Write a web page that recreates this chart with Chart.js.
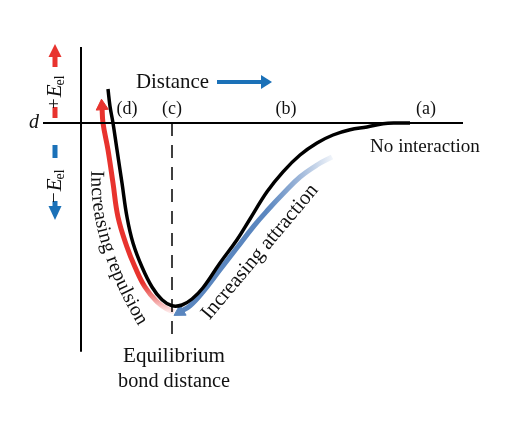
<!DOCTYPE html>
<html>
<head>
<meta charset="utf-8">
<script src="https://cdn.jsdelivr.net/npm/chart.js@4.4.0/dist/chart.umd.min.js"></script>
<style>
  body { margin: 0; background: #fff; }
  canvas { display: block; }
</style>
</head>
<body>
<canvas id="myChart" width="512" height="422"></canvas>
<script>
// potential energy curve, distance in pm, energy in kJ/mol
const curveDist   = [27, 29, 32, 36, 41, 46, 52, 61, 71, 81, 91, 101, 111, 122, 139, 156, 169, 186, 202, 219, 236, 252, 269, 286, 302, 316, 329];
const curveEnergy = [85, 42, 0, -67, -150, -235, -300, -360, -410, -442, -457, -455, -440, -412, -350, -292, -240, -172, -122, -80, -50, -30, -17, -10, -2, 0, 0];

// red "increasing repulsion" arrow (arrow head at first point)
const repulsionDist   = [21, 22, 27, 32, 37, 46, 54, 64, 76, 86, 93];
const repulsionEnergy = [42, 0, -67, -150, -235, -310, -360, -410, -447, -465, -472];

// blue "increasing attraction" arrow (arrow head at first point)
const attractionDist   = [99, 109, 122, 139, 156, 173, 187, 202, 219, 236, 251];
const attractionEnergy = [-472, -457, -422, -367, -312, -257, -217, -177, -135, -105, -85];

const eqDistance = 91;
const eqLineBottom = -542;
const distAxis = [-38, 382];
const energyAxis = [-572, 190];

const regionLabels = ['(d)', '(c)', '(b)', '(a)'];
const regionDist = [46, 91, 205, 345];

const RED = '#e8332e';
const BLUE = '#1b71b8';
const STEEL = '#5a86bf';

const pts = (xs, ys) => xs.map((x, i) => ({ x: x, y: ys[i] }));

// text sized so that it spans a given width
function fitFont(c, txt, w, style) {
    c.font = (style || '') + ' 20px "Liberation Serif"';
    const s = 20 * w / c.measureText(txt).width;
    c.font = (style || '') + ' ' + s.toFixed(2) + 'px "Liberation Serif"';
    return s;
}

function rotText(c, txt, x, y, deg, w) {
    c.save();
    c.translate(x, y);
    c.rotate(deg * Math.PI / 180);
    fitFont(c, txt, w);
    c.textAlign = 'center';
    c.textBaseline = 'middle';
    c.fillText(txt, 0, 0);
    c.restore();
}

// text following a quadratic curve p0 -> p2 (control q)
function curvedText(c, txt, p0, q, p2, w) {
    const path = [];
    for (let i = 0; i <= 200; i++) {
        const t = i / 200, u = 1 - t;
        path.push([u * u * p0[0] + 2 * t * u * q[0] + t * t * p2[0],
                   u * u * p0[1] + 2 * t * u * q[1] + t * t * p2[1]]);
    }
    const len = [0];
    for (let i = 1; i < path.length; i++) {
        len.push(len[i - 1] + Math.hypot(path[i][0] - path[i - 1][0], path[i][1] - path[i - 1][1]));
    }
    const total = len[len.length - 1];
    const at = s => {
        let i = 1;
        while (i < len.length - 1 && len[i] < s) i++;
        const f = (s - len[i - 1]) / (len[i] - len[i - 1]);
        const a = path[i - 1], b = path[i];
        return [a[0] + (b[0] - a[0]) * f, a[1] + (b[1] - a[1]) * f, Math.atan2(b[1] - a[1], b[0] - a[0])];
    };
    fitFont(c, txt, w);
    c.textAlign = 'left';
    c.textBaseline = 'middle';
    let s = (total - w) / 2;
    for (const ch of txt) {
        const cw = c.measureText(ch).width;
        const p = at(s + cw / 2);
        c.save();
        c.translate(p[0], p[1]);
        c.rotate(p[2]);
        c.fillText(ch, -cw / 2, 0);
        c.restore();
        s += cw;
    }
}

function tri(c, x1, y1, x2, y2, x3, y3, col) {
    c.fillStyle = col;
    c.beginPath();
    c.moveTo(x1, y1); c.lineTo(x2, y2); c.lineTo(x3, y3);
    c.closePath();
    c.fill();
}

// E_el label rotated, reading upward, starting at (x, y) = baseline start
function energyLabel(c, sign, x, y) {
    c.save();
    c.translate(x, y);
    c.rotate(-Math.PI / 2);
    c.fillStyle = '#111';
    c.textAlign = 'left';
    c.textBaseline = 'alphabetic';
    c.font = '19px "Liberation Serif"';
    c.fillText(sign, 0, -1);
    let w = c.measureText(sign).width + 1;
    c.font = 'italic 21px "Liberation Serif"';
    c.fillText('E', w, 0);
    w += c.measureText('E').width - 1;
    c.font = '14px "Liberation Serif"';
    c.fillText('el', w, 3);
    c.restore();
}

const labelPlugin = {
    id: 'labels',
    afterDatasetsDraw(chart) {
        const c = chart.ctx;
        const X = v => chart.scales.x.getPixelForValue(v);
        const Y = v => chart.scales.y.getPixelForValue(v);
        c.save();
        c.fillStyle = '#111';
        c.textBaseline = 'alphabetic';

        // Distance ->
        c.textAlign = 'left';
        fitFont(c, 'Distance', 73);
        c.fillText('Distance', 136, 88);
        c.fillStyle = BLUE;
        c.fillRect(217, 80, 46, 4);
        tri(c, 261, 75, 272, 82, 261, 89, BLUE);

        // region letters
        c.fillStyle = '#111';
        c.textAlign = 'center';
        c.font = '18px "Liberation Serif"';
        regionLabels.forEach((t, i) => c.fillText(t, X(regionDist[i]), 114));

        c.textAlign = 'left';
        fitFont(c, 'No interaction', 110);
        c.fillText('No interaction', 370, 152);

        c.textAlign = 'center';
        fitFont(c, 'Equilibrium', 102);
        c.fillText('Equilibrium', X(eqDistance) + 2, 362);
        fitFont(c, 'bond distance', 112);
        c.fillText('bond distance', X(eqDistance) + 2, 387);

        curvedText(c, 'Increasing repulsion', [97, 163], [91, 239], [147, 330], 162);
        rotText(c, 'Increasing attraction', 260, 252, -50, 170);

        // d on the energy axis
        c.fillStyle = '#111';
        c.textAlign = 'center';
        c.textBaseline = 'alphabetic';
        c.font = 'italic 20px "Liberation Serif"';
        c.fillText('d', 34, Y(0) + 5);

        // +E_el / -E_el indicators
        c.fillStyle = RED;
        c.fillRect(52.5, 107, 5, 11);
        c.fillRect(52.5, 55, 5, 12);
        tri(c, 48.5, 57, 55, 44, 61.5, 57, RED);
        energyLabel(c, '+', 61, 109);

        c.fillStyle = BLUE;
        c.fillRect(52.5, 145, 5, 13);
        c.fillRect(52.5, 201, 5, 6);
        tri(c, 48.5, 206, 55, 220, 61.5, 206, BLUE);
        energyLabel(c, '\u2212', 61, 203);

        c.restore();
    }
};

window.onload = () => {
    const ctx = document.getElementById('myChart').getContext('2d');

    const redFade = (context) => {
        const chart = context.chart;
        if (!chart.chartArea) return RED;
        const y = chart.scales.y;
        const g = chart.ctx.createLinearGradient(0, y.getPixelForValue(-400), 0, y.getPixelForValue(-472));
        g.addColorStop(0, RED);
        g.addColorStop(0.5, '#f08a88');
        g.addColorStop(1, '#fde6e6');
        return g;
    };
    const blueFade = (context) => {
        const chart = context.chart;
        if (!chart.chartArea) return STEEL;
        const x = chart.scales.x;
        const g = chart.ctx.createLinearGradient(x.getPixelForValue(185), 0, x.getPixelForValue(251), 0);
        g.addColorStop(0, STEEL);
        g.addColorStop(0.5, '#9db6d9');
        g.addColorStop(1, '#f0f4fa');
        return g;
    };

    const line = {
        showLine: true, pointRadius: 0, tension: 0, borderColor: '#000', clip: false
    };

    const myChart = new Chart(ctx, {
        type: 'scatter',
        data: {
            datasets: [
                Object.assign({}, line, { data: pts(curveDist, curveEnergy), borderWidth: 3.5, tension: 0.4 }),
                Object.assign({}, line, { data: pts(distAxis, [0, 0]), borderWidth: 2 }),
                Object.assign({}, line, { data: pts([0, 0], energyAxis), borderWidth: 2 }),
                Object.assign({}, line, { data: pts([eqDistance, eqDistance], [0, eqLineBottom]), borderWidth: 1.5, borderDash: [13, 9] }),
                Object.assign({}, line, {
                    data: pts(repulsionDist, repulsionEnergy),
                    borderColor: redFade, borderWidth: 5, tension: 0.4,
                    pointStyle: 'triangle', rotation: -4,
                    pointRadius: c => c.dataIndex === 0 ? 7 : 0,
                    pointBackgroundColor: RED, pointBorderColor: RED, pointBorderWidth: 1
                }),
                Object.assign({}, line, {
                    data: pts(attractionDist, attractionEnergy),
                    borderColor: blueFade, borderWidth: 5, tension: 0.4,
                    pointStyle: 'triangle', rotation: -121,
                    pointRadius: c => c.dataIndex === 0 ? 7 : 0,
                    pointBackgroundColor: STEEL, pointBorderColor: STEEL, pointBorderWidth: 1
                })
            ]
        },
        options: {
            responsive: false,
            animation: false,
            events: [],
            layout: { padding: 0, autoPadding: false },
            plugins: { legend: { display: false }, tooltip: { enabled: false } },
            scales: {
                x: { type: 'linear', min: -81, max: 431, display: false },
                y: { type: 'linear', min: -747.5, max: 307.5, display: false }
            }
        },
        plugins: [labelPlugin]
    });
    myChart
};
</script>
</body>
</html>
